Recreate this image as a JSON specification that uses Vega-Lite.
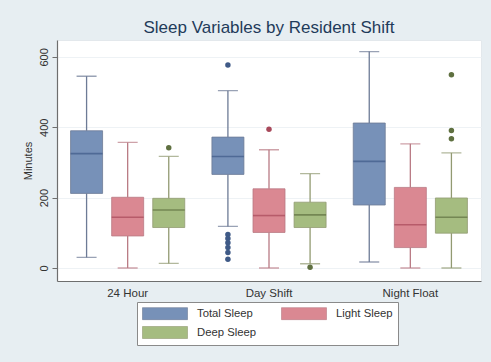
{
  "$schema": "https://vega.github.io/schema/vega-lite/v6.json",
  "width": 424,
  "height": 241,
  "autosize": {"type": "none"},
  "padding": {"left": 57, "top": 40, "right": 10, "bottom": 81},
  "background": "#e7eef2",
  "title": {
    "text": "Sleep Variables by Resident Shift",
    "fontSize": 17,
    "font": "Liberation Sans",
    "fontWeight": "normal",
    "color": "#1f3b5a",
    "offset": 3
  },
  "config": {
    "font": "Liberation Sans",
    "view": {"stroke": "#e3e8ec", "fill": "white"}
  },
  "datasets": {
    "boxes": [
      {"shift": "24 Hour", "var": "Total Sleep", "lo": 30, "q1": 212, "med": 325, "q3": 390, "hi": 545},
      {"shift": "24 Hour", "var": "Light Sleep", "lo": 0, "q1": 91, "med": 144, "q3": 201, "hi": 357},
      {"shift": "24 Hour", "var": "Deep Sleep", "lo": 13, "q1": 115, "med": 165, "q3": 198, "hi": 317},
      {"shift": "Day Shift", "var": "Total Sleep", "lo": 118, "q1": 266, "med": 317, "q3": 372, "hi": 504},
      {"shift": "Day Shift", "var": "Light Sleep", "lo": 0, "q1": 101, "med": 149, "q3": 225, "hi": 336},
      {"shift": "Day Shift", "var": "Deep Sleep", "lo": 12, "q1": 115, "med": 151, "q3": 187, "hi": 268},
      {"shift": "Night Float", "var": "Total Sleep", "lo": 17, "q1": 179, "med": 303, "q3": 412, "hi": 615},
      {"shift": "Night Float", "var": "Light Sleep", "lo": 0, "q1": 58, "med": 123, "q3": 229, "hi": 353},
      {"shift": "Night Float", "var": "Deep Sleep", "lo": 0, "q1": 99, "med": 144, "q3": 199, "hi": 327}
    ],
    "outliers": [
      {"shift": "24 Hour", "var": "Deep Sleep", "v": 342},
      {"shift": "Day Shift", "var": "Total Sleep", "v": 577},
      {"shift": "Day Shift", "var": "Total Sleep", "v": 95},
      {"shift": "Day Shift", "var": "Total Sleep", "v": 84},
      {"shift": "Day Shift", "var": "Total Sleep", "v": 72},
      {"shift": "Day Shift", "var": "Total Sleep", "v": 58},
      {"shift": "Day Shift", "var": "Total Sleep", "v": 44},
      {"shift": "Day Shift", "var": "Total Sleep", "v": 25},
      {"shift": "Day Shift", "var": "Light Sleep", "v": 394},
      {"shift": "Day Shift", "var": "Deep Sleep", "v": 2},
      {"shift": "Night Float", "var": "Deep Sleep", "v": 549},
      {"shift": "Night Float", "var": "Deep Sleep", "v": 391},
      {"shift": "Night Float", "var": "Deep Sleep", "v": 367}
    ]
  },
  "encoding": {
    "x": {
      "field": "shift", "type": "nominal",
      "scale": {"domain": ["24 Hour", "Day Shift", "Night Float"], "paddingInner": 0, "paddingOuter": 0},
      "axis": {
        "title": null, "labelAngle": 0, "ticks": false, "labelPadding": 6,
        "labelFontSize": 11.5, "labelColor": "#333", "domainColor": "#6e6e6e", "domainWidth": 1.2
      }
    },
    "xOffset": {
      "field": "var", "type": "nominal",
      "scale": {"domain": ["Total Sleep", "Light Sleep", "Deep Sleep"], "paddingInner": 0, "paddingOuter": 0.22}
    }
  },
  "layer": [
    {
      "data": {"name": "boxes"},
      "mark": {"type": "bar", "width": 32, "strokeWidth": 0},
      "encoding": {
        "y": {
          "field": "q1", "type": "quantitative",
          "scale": {"domain": [-37, 648], "nice": false, "zero": false},
          "axis": {
            "title": "Minutes", "values": [0, 200, 400, 600], "labelAngle": 270,
            "labelFontSize": 11, "labelColor": "#333", "titleFontSize": 11, "titleFontWeight": "normal",
            "titleColor": "#333", "titlePadding": 5, "tickSize": 5, "tickColor": "#6e6e6e",
            "domainColor": "#6e6e6e", "domainWidth": 1.2, "labelPadding": 3,
            "grid": true, "gridColor": "#eef2f5"
          }
        },
        "y2": {"field": "q3"},
        "fill": {
          "field": "var", "type": "nominal",
          "scale": {"domain": ["Total Sleep", "Light Sleep", "Deep Sleep"], "range": ["#7791b8", "#da8892", "#a5bc80"]},
          "legend": {
            "title": null, "orient": "none", "legendX": 80, "legendY": 262,
            "direction": "horizontal", "columns": 2, "columnPadding": 23, "rowPadding": 4,
            "fillColor": "white", "strokeColor": "#8a8a8a", "padding": 5,
            "symbolType": "M-1,-1H6.5V1H-1Z", "symbolSize": 144,
            "symbolStrokeColor": "#8a95a8", "symbolStrokeWidth": 0.6, "symbolOpacity": 1,
            "labelFontSize": 11.3, "labelColor": "#333", "labelOffset": 42
          }
        }
      }
    },
    {
      "data": {"name": "boxes"},
      "mark": {"type": "bar", "width": 32, "fillOpacity": 0, "strokeWidth": 0.8},
      "encoding": {
        "y": {"field": "q1", "type": "quantitative"},
        "y2": {"field": "q3"},
        "stroke": {
          "field": "var", "type": "nominal",
          "scale": {"domain": ["Total Sleep", "Light Sleep", "Deep Sleep"], "range": ["#6d7b96", "#b97a84", "#929a72"]},
          "legend": null
        }
      }
    },
    {
      "data": {"name": "boxes"},
      "mark": {"type": "rule", "strokeWidth": 1.3},
      "encoding": {
        "y": {"field": "lo", "type": "quantitative"},
        "y2": {"field": "q1"},
        "stroke": {"field": "var", "type": "nominal", "legend": null}
      }
    },
    {
      "data": {"name": "boxes"},
      "mark": {"type": "rule", "strokeWidth": 1.3},
      "encoding": {
        "y": {"field": "q3", "type": "quantitative"},
        "y2": {"field": "hi"},
        "stroke": {"field": "var", "type": "nominal", "legend": null}
      }
    },
    {
      "data": {"name": "boxes"},
      "mark": {"type": "tick", "filled": false, "thickness": 0, "size": 20, "strokeWidth": 1.3},
      "encoding": {
        "y": {"field": "lo", "type": "quantitative"},
        "stroke": {"field": "var", "type": "nominal", "legend": null}
      }
    },
    {
      "data": {"name": "boxes"},
      "mark": {"type": "tick", "filled": false, "thickness": 0, "size": 20, "strokeWidth": 1.3},
      "encoding": {
        "y": {"field": "hi", "type": "quantitative"},
        "stroke": {"field": "var", "type": "nominal", "legend": null}
      }
    },
    {
      "data": {"name": "boxes"},
      "mark": {"type": "tick", "filled": true, "thickness": 1.6, "size": 32},
      "encoding": {
        "y": {"field": "med", "type": "quantitative"},
        "color": {
          "field": "var", "type": "nominal",
          "scale": {"domain": ["Total Sleep", "Light Sleep", "Deep Sleep"], "range": ["#3f5a87", "#a8485a", "#5f7040"]},
          "legend": null
        }
      }
    },
    {
      "data": {"name": "outliers"},
      "mark": {"type": "point", "filled": true, "size": 30, "opacity": 1},
      "encoding": {
        "y": {"field": "v", "type": "quantitative"},
        "color": {"field": "var", "type": "nominal", "legend": null}
      }
    }
  ]
}
